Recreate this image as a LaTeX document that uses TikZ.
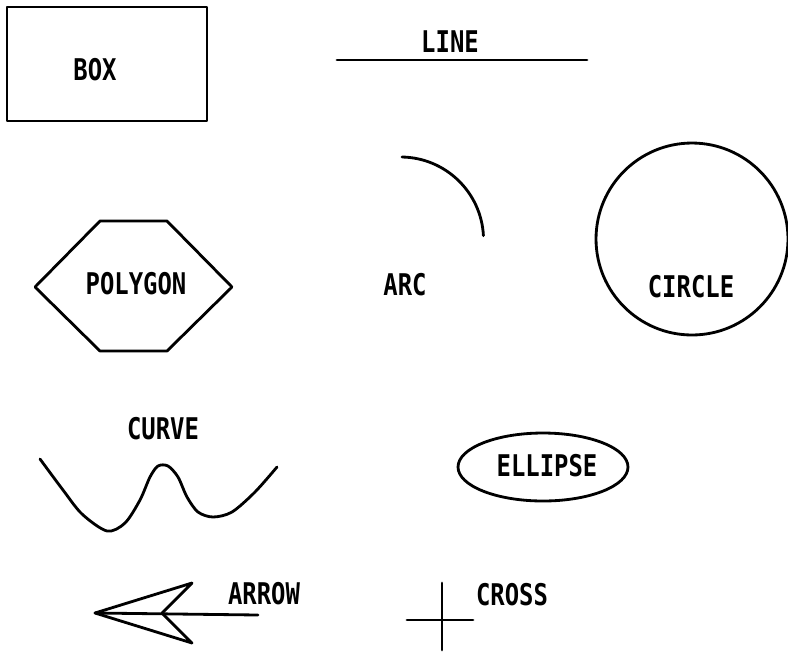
\documentclass[tikz,border=0pt]{standalone}
\usepackage{fontspec}
\newfontfamily\plotfont[FakeStretch=0.8]{DejaVu Sans Mono Bold}

\begin{document}
\begin{tikzpicture}[x=0.02cm, y=-0.02cm, line width=1.6pt, line join=round, line cap=round,
  lbl/.style={font=\plotfont\fontsize{17}{20}\selectfont, inner sep=0pt}]

  \useasboundingbox (0,0) rectangle (788,654);

  % Box
  \draw (7,7) rectangle (207,121);
  \node[lbl] (box) at (95,70) {BOX};

  % Line
  \draw (337,60) -- (587,60);
  \node[lbl] (line) at (450,42) {LINE};

  % Arc
  \draw (402,157) arc[start angle=89, end angle=3, radius=1.66cm];
  \node[lbl] (arc) at (405,285) {ARC};

  % Circle
  \draw (692,239) circle[radius=1.92cm];
  \node[lbl] (circle) at (691,287) {CIRCLE};

  % Polygon
  \draw (35,287) -- (100,221) -- (167,221) -- (232,287) -- (167,351) -- (100,351) -- cycle;
  \node[lbl] (polygon) at (136,284) {POLYGON};

  % Curve
  \draw plot[smooth] coordinates {(40,459) (63,490) (82,514) (107,531) (125,523)
    (140,500) (150,477) (158,466) (168,466) (178,477) (187,497) (198,512) (213,517) (232,512) (255,492) (277,467)};
  \node[lbl] (curve) at (163,429) {CURVE};

  % Ellipse
  \draw (543,467) ellipse[x radius=1.7cm, y radius=0.68cm];
  \node[lbl] (ellipse) at (547,466) {ELLIPSE};

  % Arrow
  \draw (95,613) -- (258,615);
  \draw (95,613) -- (192,583) -- (162,613) -- (192,643) -- cycle;
  \node[lbl] (arrow) at (264,594) {ARROW};

  % Cross
  \draw (407,620) -- (473,620);
  \draw (442,583) -- (442,650);
  \node[lbl] (cross) at (512,595) {CROSS};

\end{tikzpicture}
\end{document}
